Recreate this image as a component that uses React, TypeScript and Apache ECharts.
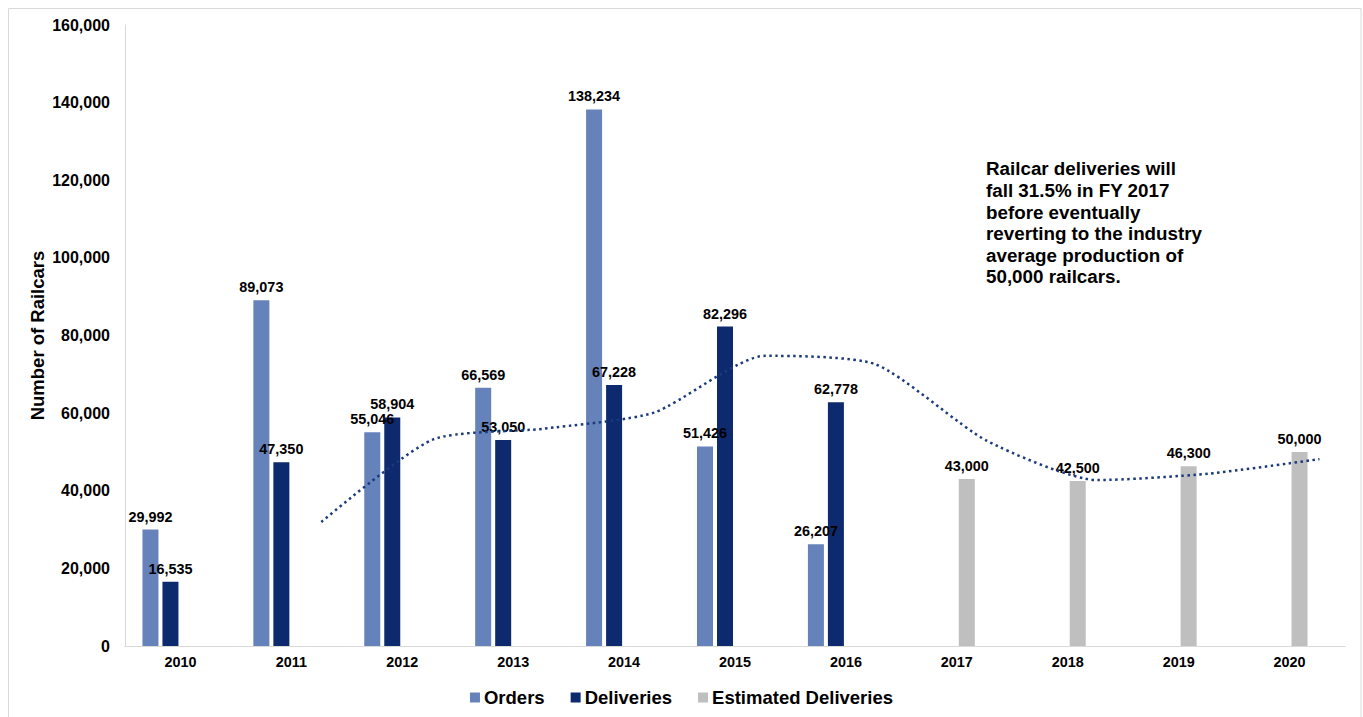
import React, { useEffect, useRef } from "react";
import * as echarts from "echarts";

const years = ["2010", "2011", "2012", "2013", "2014", "2015", "2016", "2017", "2018", "2019", "2020"];
const orders = [29992, 89073, 55046, 66569, 138234, 51426, 26207, null, null, null, null];
const deliveries = [16535, 47350, 58904, 53050, 67228, 82296, 62778, null, null, null, null];
const estimated = [null, null, null, null, null, null, null, 43000, 42500, 46300, 50000];
const yTicks = [0, 20000, 40000, 60000, 80000, 100000, 120000, 140000, 160000];
const annotation = [
  "Railcar deliveries will",
  "fall 31.5% in FY 2017",
  "before eventually",
  "reverting to the industry",
  "average production of",
  "50,000 railcars.",
];

const FONT = "'Liberation Sans', Arial, sans-serif";
const TREND_OFFSET = 0.27; // trendline drawn at the 4th (empty) bar slot of each group

export default function App() {
  const ref = useRef<HTMLDivElement>(null);
  useEffect(() => {
    document.body.style.margin = "0";
    document.body.style.overflow = "hidden";
    const chart = echarts.init(ref.current!, null, { renderer: "svg" });

    // 2-period moving average of combined deliveries (actual + estimated)
    const combined = years.map((_, i) => (deliveries[i] ?? estimated[i]) as number);
    const trend: [number, number][] = [];
    for (let i = 1; i < combined.length; i++) {
      trend.push([i + TREND_OFFSET, (combined[i] + combined[i - 1]) / 2]);
    }

    const fmt = (v: number) => Number(v).toLocaleString("en-US");
    const label = {
      show: true,
      position: "top" as const,
      distance: 6,
      color: "#000",
      fontWeight: "bold" as const,
      fontSize: 14.4,
      fontFamily: FONT,
      formatter: (p: any) => fmt(p.value),
    };

    chart.setOption({
      animation: false,
      backgroundColor: "#fff",
      grid: { left: 125, right: 18, top: 25, bottom: 71, containLabel: false },
      legend: {
        data: ["Orders", "Deliveries", "Estimated Deliveries"],
        top: 683,
        left: "center",
        itemWidth: 10,
        itemHeight: 10,
        itemGap: 26,
        icon: "rect",
        textStyle: { color: "#000", fontWeight: "bold", fontSize: 18.5, fontFamily: FONT, padding: [0, 0, 0, -1] },
      },
      xAxis: [
        {
          type: "category",
          data: years,
          axisLine: { show: true, lineStyle: { color: "#D9D9D9", width: 1 } },
          axisTick: { show: false },
          axisLabel: { color: "#000", fontWeight: "bold", fontSize: 14.4, fontFamily: FONT, margin: 9 },
        },
        { type: "value", min: -0.5, max: 10.5, show: false },
      ],
      yAxis: {
        type: "value",
        min: yTicks[0],
        max: yTicks[yTicks.length - 1],
        interval: 20000,
        name: "Number of Railcars",
        nameLocation: "middle",
        nameGap: 78,
        nameMoveOverlap: false,
        nameTextStyle: { color: "#000", fontWeight: "bold", fontSize: 18.5, fontFamily: FONT },
        axisLine: { show: true, onZero: false, lineStyle: { color: "#D9D9D9", width: 1 } },
        axisTick: { show: false },
        splitLine: { show: false },
        axisLabel: { color: "#000", fontWeight: "bold", fontSize: 16, fontFamily: FONT, margin: 15, formatter: (v: number) => fmt(v) },
      },
      series: [
        { name: "Orders", type: "bar", data: orders, barWidth: 16, barGap: "25%", itemStyle: { color: "#6682BA" }, label },
        { name: "Deliveries", type: "bar", data: deliveries, barWidth: 16, barGap: "25%", itemStyle: { color: "#0D2A6E" }, label },
        { name: "Estimated Deliveries", type: "bar", data: estimated, barWidth: 16, barGap: "25%", itemStyle: { color: "#BFBFBF" }, label },
        { name: "slot", type: "bar", data: years.map(() => null), barWidth: 16, barGap: "25%" },
        {
          name: "Trend",
          type: "line",
          xAxisIndex: 1,
          data: trend,
          smooth: 0.22,
          symbol: "none",
          lineStyle: { color: "#1B3A7E", width: 2.5, type: [2.5, 3.5], cap: "butt" },
        },
      ],
      graphic: [
        { type: "rect", shape: { x: 8.5, y: 8.5, width: 1352.5, height: 720 }, style: { fill: "none", stroke: "#D9D9D9", lineWidth: 1 }, silent: true },
        {
          type: "text",
          left: 986,
          top: 158,
          style: { text: annotation.join("\n"), fill: "#000", font: `bold 18.8px ${FONT}`, lineHeight: 21.6 },
        },
      ],
    });
    return () => chart.dispose();
  }, []);
  return <div ref={ref} style={{ position: "fixed", left: 0, top: 0, width: 1363, height: 717 }} />;
}
